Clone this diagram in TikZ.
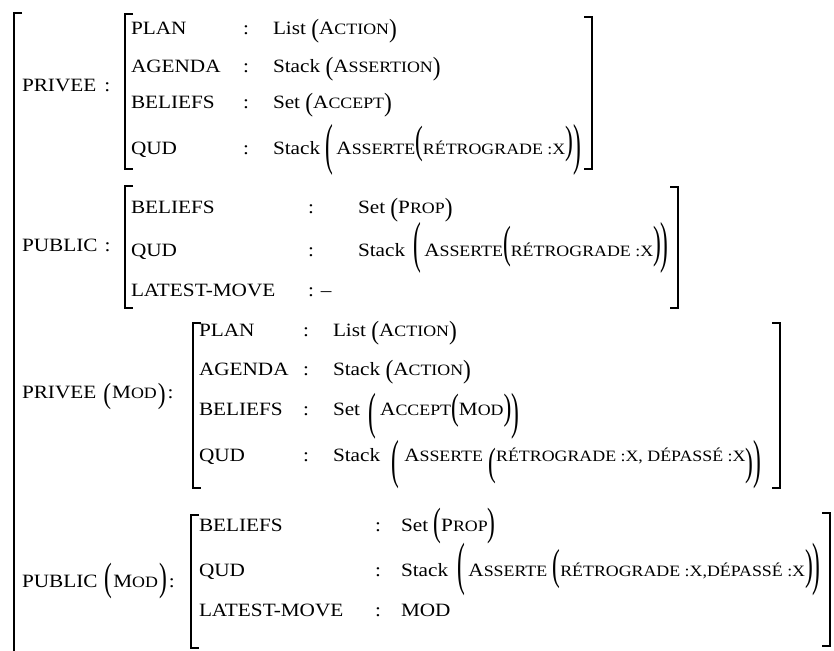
\documentclass[tikz,border=0pt]{standalone}
\usepackage{fontspec}
\usepackage{graphicx}
\setmainfont{Liberation Serif}[FakeStretch=1.13]
\newcommand\sm[1]{{\fontsize{15.8pt}{17pt}\selectfont #1}}
\newcommand\LP[2]{\raisebox{#2pt}{\scalebox{1.1}[#1]{(}}}
\newcommand\RP[2]{\raisebox{#2pt}{\scalebox{1.1}[#1]{)}}}
\begin{document}
\begin{tikzpicture}[x=1pt,y=-1pt,
  txt/.style={anchor=base west,inner sep=0pt,outer sep=0pt,font=\fontsize{18.8pt}{21pt}\selectfont},
  brk/.style={line width=1.8pt}]
\useasboundingbox (0,0) rectangle (834,650);
% outer bracket
\draw[brk] (22,13) -- (14,13) -- (14,651);
% ---------- block 1 ----------
\draw[brk] (133,14) -- (125,14) -- (125,169) -- (133,169);
\draw[brk] (584,17) -- (592,17) -- (592,169) -- (584,169);
\node[txt] (p1) at (22,92) {PRIVEE\hspace{8pt}:};
\node[txt] (k11) at (131,35) {PLAN};
\node[txt] (k12) at (131,72.5) {AGENDA};
\node[txt] (k13) at (131,109) {BELIEFS};
\node[txt] (k14) at (131,154) {QUD};
\node[txt] (c11) at (243,35) {:};
\node[txt] (c12) at (243,72.5) {:};
\node[txt] (c13) at (243,109) {:};
\node[txt] (c14) at (243,154) {:};
\node[txt] (v11) at (273,35) {List \LP{1.4}{-3}A\sm{CTION}\RP{1.4}{-3}};
\node[txt] (v12) at (273,72.5) {Stack \LP{1.4}{-3}A\sm{SSERTION}\RP{1.4}{-3}};
\node[txt] (v13) at (273,109) {Set \LP{1.4}{-3}A\sm{CCEPT}\RP{1.4}{-3}};
\node[txt] (v14) at (273,154) {Stack \LP{3.0}{-9.3}\,A\sm{SSERTE}\LP{2.1}{0.1}\sm{RÉTROGRADE :X}\RP{2.1}{0.1}\RP{3.0}{-9.3}};
% ---------- block 2 ----------
\draw[brk] (133,186) -- (125,186) -- (125,308) -- (133,308);
\draw[brk] (670,187) -- (678,187) -- (678,308) -- (670,308);
\node[txt] (p2) at (22,251.5) {PUBLIC\hspace{7pt}:};
\node[txt] (k21) at (131,213) {BELIEFS};
\node[txt] (k22) at (131,256.5) {QUD};
\node[txt] (k23) at (131,296) {LATEST-MOVE};
\node[txt] (c21) at (308,213) {:};
\node[txt] (c22) at (308,256.5) {:};
\node[txt] (c23) at (308,296) {: –};
\node[txt] (v21) at (358,213) {Set \LP{1.4}{-3}P\sm{ROP}\RP{1.4}{-3}};
\node[txt] (v22) at (358,256.5) {Stack\hspace{3pt} \LP{3.0}{-5.1}\hspace{3pt}A\sm{SSERTE}\LP{2.4}{-1}\sm{RÉTROGRADE :X}\RP{2.4}{-1}\RP{3.0}{-5.1}};
% ---------- block 3 ----------
\draw[brk] (201,323) -- (193,323) -- (193,488) -- (201,488);
\draw[brk] (772,323) -- (780,323) -- (780,488) -- (772,488);
\node[txt] (p3) at (22,398) {PRIVEE\hspace{7pt}\LP{1.55}{-5.1}\hspace{1pt}M\sm{OD}\hspace{1pt}\RP{1.55}{-5.1}\hspace{2pt}:};
\node[txt] (k31) at (199,336.7) {PLAN};
\node[txt] (k32) at (199,375) {AGENDA};
\node[txt] (k33) at (199,415) {BELIEFS};
\node[txt] (k34) at (199,461.7) {QUD};
\node[txt] (c31) at (303,336.7) {:};
\node[txt] (c32) at (303,375) {:};
\node[txt] (c33) at (303,415) {:};
\node[txt] (c34) at (303,461.7) {:};
\node[txt] (v31) at (333,336.7) {List \LP{1.4}{-3}A\sm{CTION}\RP{1.4}{-3}};
\node[txt] (v32) at (333,375) {Stack \LP{1.4}{-3}A\sm{CTION}\RP{1.4}{-3}};
\node[txt] (v33) at (333,415) {Set\hspace{3pt} \LP{2.7}{-13.4}\hspace{4pt}A\sm{CCEPT}\LP{1.95}{-4}M\sm{OD}\RP{1.95}{-4}\RP{2.7}{-13.4}};
\node[txt] (v34) at (333,461.7) {Stack\hspace{6pt} \LP{2.85}{-16.1}\hspace{5pt}A\sm{SSERTE} \LP{2.1}{-13.7}\sm{RÉTROGRADE :X, DÉPASSÉ :X}\RP{2.1}{-13.7}\RP{2.85}{-16.1}};
% ---------- block 4 ----------
\draw[brk] (199,515) -- (191,515) -- (191,648) -- (199,648);
\draw[brk] (822,513) -- (830,513) -- (830,646) -- (822,646);
\node[txt] (p4) at (22,587) {PUBLIC\hspace{7pt}\LP{2.1}{-3.7}\hspace{1pt}M\sm{OD}\hspace{1pt}\RP{2.1}{-3.7}\hspace{2pt}:};
\node[txt] (k41) at (199,531.7) {BELIEFS};
\node[txt] (k42) at (199,576.7) {QUD};
\node[txt] (k43) at (199,616.7) {LATEST-MOVE};
\node[txt] (c41) at (375,531.7) {:};
\node[txt] (c42) at (375,576.7) {:};
\node[txt] (c43) at (375,616.7) {:};
\node[txt] (v41) at (401,531.7) {Set \LP{2.1}{-3.7}P\sm{ROP}\RP{2.1}{-3.7}};
\node[txt] (v42) at (401,576.7) {Stack\hspace{4pt} \LP{3.1}{-6.3}\,A\sm{SSERTE} \LP{2.3}{-3.1}\sm{RÉTROGRADE :X,DÉPASSÉ :X}\RP{2.3}{-3.1}\RP{3.1}{-6.3}};
\node[txt] (v43) at (401,616.7) {MOD};
\end{tikzpicture}
\end{document}
